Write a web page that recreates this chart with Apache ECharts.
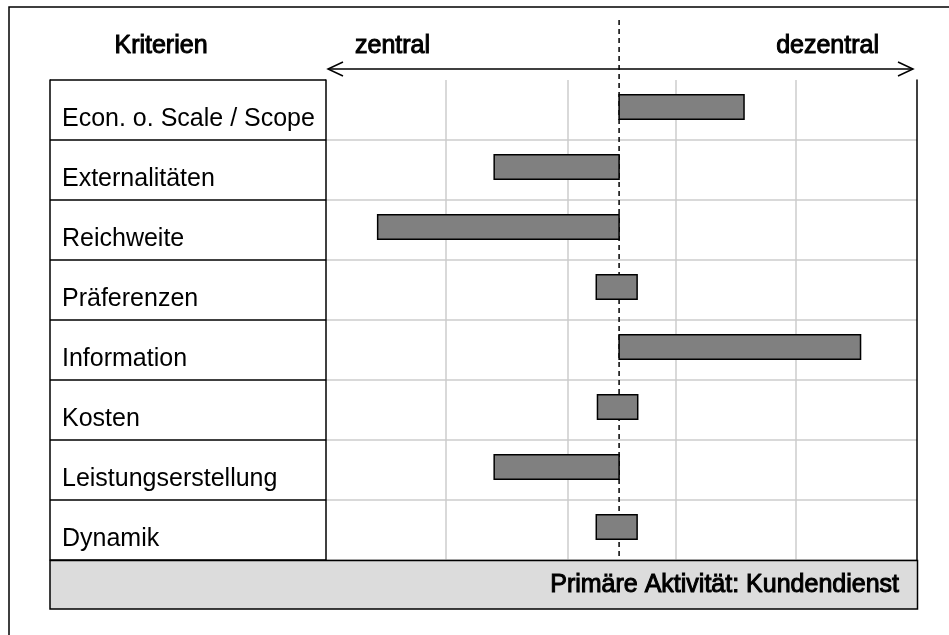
<!DOCTYPE html>
<html>
<head>
<meta charset="utf-8">
<script src="https://cdn.jsdelivr.net/npm/echarts@6/dist/echarts.min.js"></script>
<style>
html, body { margin: 0; padding: 0; background: #fff; }
#main { width: 949px; height: 635px; }
</style>
</head>
<body>
<div id="main"></div>
<script>
var categories = [
    'Econ. o. Scale / Scope',
    'Externalitäten',
    'Reichweite',
    'Präferenzen',
    'Information',
    'Kosten',
    'Leistungserstellung',
    'Dynamik'
];
// bar from barStart to barEnd, 0 = dashed middle line
var barStart = [0, -1.04, -2.01, -0.19, 0, -0.18, -1.04, -0.19];
var barEnd = [1.04, 0, 0, 0.15, 2.01, 0.155, 0, 0.15];
var gridValues = [-1.44, -0.43, 0.47, 1.47];
var axisMin = -2.44;
var axisMax = 2.48;

var font = 'Liberation Sans, Arial, sans-serif';
var chart = echarts.init(document.getElementById('main'), null, { renderer: 'canvas' });

var barData = categories.map(function (c, i) {
    return [barStart[i], barEnd[i], i];
});

var option = {
    animation: false,
    grid: [
        { left: 50, top: 80, width: 276, height: 480 },
        { left: 326, top: 80, width: 591, height: 480 }
    ],
    xAxis: [
        { gridIndex: 0, type: 'value', min: 0, max: 1, show: false },
        { gridIndex: 1, type: 'value', min: axisMin, max: axisMax, show: false }
    ],
    yAxis: [
        {
            gridIndex: 0, type: 'category', inverse: true, data: categories,
            axisLine: { show: true, onZero: false, lineStyle: { color: '#000', width: 1.5 } },
            axisTick: { show: false },
            splitLine: { show: true, lineStyle: { color: '#000', width: 1.5 } },
            axisLabel: {
                inside: true, margin: 12, color: '#000',
                fontFamily: font, fontSize: 25,
                verticalAlign: 'top', lineHeight: 18
            }
        },
        {
            gridIndex: 1, type: 'category', inverse: true, data: categories,
            axisLine: { show: true, onZero: false, lineStyle: { color: '#000', width: 1.5 } },
            axisTick: { show: false },
            axisLabel: { show: false },
            splitLine: { show: true, showMinLine: false, lineStyle: { color: '#cccccc', width: 1.5 } }
        },
        {
            gridIndex: 1, type: 'category', inverse: true, position: 'right', data: categories,
            axisLine: { show: true, onZero: false, lineStyle: { color: '#000', width: 1.5 } },
            axisTick: { show: false },
            axisLabel: { show: false },
            splitLine: { show: false }
        }
    ],
    series: [
        {
            type: 'line',
            xAxisIndex: 1,
            yAxisIndex: 1,
            data: [],
            z: 1,
            markLine: {
                silent: true,
                symbol: 'none',
                label: { show: false },
                lineStyle: { color: '#cccccc', width: 1.5, type: 'solid' },
                data: gridValues.map(function (v) { return { xAxis: v }; })
            }
        },
        {
            type: 'custom',
            xAxisIndex: 1,
            yAxisIndex: 1,
            z: 5,
            encode: { x: [0, 1], y: 2 },
            data: barData,
            renderItem: function (params, api) {
                var idx = api.value(2);
                var a = api.coord([api.value(0), idx]);
                var b = api.coord([api.value(1), idx]);
                var h = api.size([0, 1])[1] * 0.41;
                return {
                    type: 'rect',
                    shape: { x: a[0], y: a[1] - h / 2 - 3, width: b[0] - a[0], height: h },
                    style: { fill: '#808080', stroke: '#000', lineWidth: 1.5 }
                };
            }
        }
    ]
};

chart.setOption(option);

// dashed line at the middle value, from header down to the footer
var midX = chart.convertToPixel({ xAxisIndex: 1 }, 0);
var headStyle = {
    fill: '#000', font: '25px ' + font,
    stroke: '#000', lineWidth: 1
};

chart.setOption({
    graphic: [
        {
            type: 'rect', z: 0, silent: true,
            shape: { x: 9, y: 7, width: 1000, height: 700 },
            style: { fill: 'none', stroke: '#000', lineWidth: 1.5 }
        },
        {
            type: 'line', z: 1, silent: true,
            shape: { x1: midX, y1: 20, x2: midX, y2: 560 },
            style: { stroke: '#000', lineWidth: 1.5, lineDash: [5, 4] }
        },
        {
            type: 'polyline', silent: true,
            shape: { points: [[328, 69], [913, 69]] },
            style: { stroke: '#000', lineWidth: 1.5, fill: 'none' }
        },
        {
            type: 'polyline', silent: true,
            shape: { points: [[343, 62], [328, 69], [343, 76]] },
            style: { stroke: '#000', lineWidth: 1.5, fill: 'none' }
        },
        {
            type: 'polyline', silent: true,
            shape: { points: [[898, 62], [913, 69], [898, 76]] },
            style: { stroke: '#000', lineWidth: 1.5, fill: 'none' }
        },
        {
            type: 'text', silent: true, x: 161, y: 46,
            style: Object.assign({ text: 'Kriterien', align: 'center', verticalAlign: 'middle' }, headStyle)
        },
        {
            type: 'text', silent: true, x: 355, y: 46,
            style: Object.assign({ text: 'zentral', align: 'left', verticalAlign: 'middle' }, headStyle)
        },
        {
            type: 'text', silent: true, x: 879, y: 46,
            style: Object.assign({ text: 'dezentral', align: 'right', verticalAlign: 'middle' }, headStyle)
        },
        {
            type: 'rect', z: 10, silent: true,
            shape: { x: 50, y: 560.5, width: 867.5, height: 48.5 },
            style: { fill: '#dcdcdc', stroke: '#000', lineWidth: 1.5 }
        },
        {
            type: 'text', z: 11, silent: true, x: 899, y: 585,
            style: Object.assign({ text: 'Primäre Aktivität: Kundendienst', align: 'right', verticalAlign: 'middle' }, headStyle)
        }
    ]
});

window.addEventListener('resize', function () {
    chart.resize();
});
</script>
</body>
</html>
